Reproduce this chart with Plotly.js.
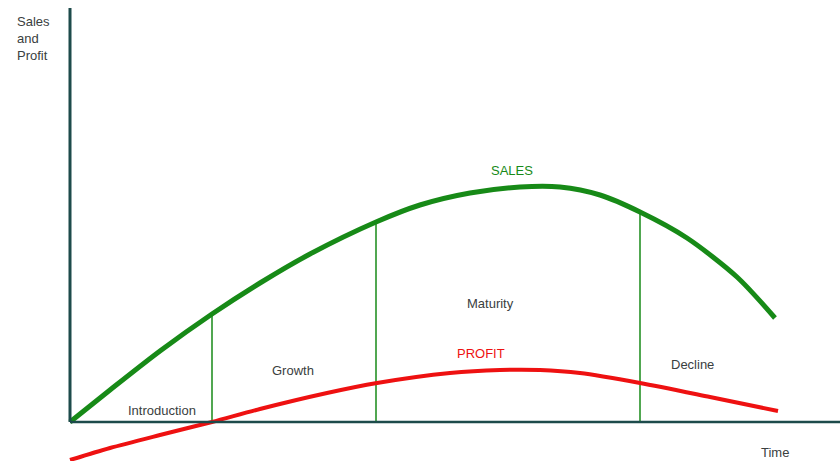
<!DOCTYPE html>
<html>
<head>
<meta charset="utf-8">
<script src="https://cdn.plot.ly/plotly-3.0.1.min.js"></script>
<style>
  html, body { margin: 0; padding: 0; background: #fff; }
  #chart { width: 840px; height: 461px; }
</style>
</head>
<body>
<div id="chart"></div>
<script>
// Product life cycle (time units, arbitrary sales units)
const salesTime = [0, 40, 90, 142, 190, 240, 306, 350, 400, 450, 490, 530, 570, 617, 667, 705];
const salesValue = [0, 32, 71, 108, 139, 168, 200, 217, 229, 235, 235, 227, 210, 184, 145, 104];

const profitTime = [0, 40, 90, 142, 190, 257, 307, 380, 430, 470, 510, 570, 640, 708];
const profitValue = [-38, -26, -13, 0, 13, 29, 39, 49, 52, 52, 49, 39, 25, 11];

// stage boundaries and the sales level where each divider stops
const stageBounds = [142, 306, 570];
const stageTops = [108, 200, 210];

const stageNames = ['Introduction', 'Growth', 'Maturity', 'Decline'];
const stageLabelX = [92, 223, 420, 622];
const stageLabelY = [12, 52, 119, 58];

const green = '#178a17';
const red = '#ee1111';
const axisColor = '#1d4b4b';
const textColor = '#3a4040';

const traces = [];

// dividers between stages
stageBounds.forEach((t, i) => {
    traces.push({
        x: [t, t], y: [0, stageTops[i]],
        mode: 'lines', line: { color: green, width: 1.5 },
        hoverinfo: 'skip', showlegend: false
    });
});

traces.push({
    x: salesTime, y: salesValue, mode: 'lines', name: 'Sales',
    line: { color: green, width: 5, shape: 'spline', smoothing: 0.8 }
});
traces.push({
    x: profitTime, y: profitValue, mode: 'lines', name: 'Profit',
    line: { color: red, width: 4, shape: 'spline', smoothing: 0.8 }
});

const font = { family: 'Liberation Sans, Arial, sans-serif', size: 13, color: textColor };

const annotations = stageNames.map((name, i) => ({
    x: stageLabelX[i], y: stageLabelY[i], text: name, showarrow: false,
    font: font, xanchor: 'center', yanchor: 'middle'
}));
annotations.push(
    { x: 442, y: 252, text: 'SALES', showarrow: false, font: { ...font, color: green } },
    { x: 411, y: 69, text: 'PROFIT', showarrow: false, font: { ...font, color: red } },
    { x: 705, y: -30, text: 'Time', showarrow: false, font: font },
    {
        x: -55, y: 410, text: 'Sales<br>and<br>Profit', showarrow: false,
        font: font, align: 'left', xanchor: 'left', yanchor: 'top'
    }
);

const layout = {
    width: 840, height: 461,
    margin: { l: 0, r: 0, t: 0, b: 0 },
    paper_bgcolor: '#fff', plot_bgcolor: '#fff',
    showlegend: false,
    xaxis: { range: [-70, 770], visible: false, fixedrange: true },
    yaxis: { range: [-39, 422], visible: false, fixedrange: true },
    shapes: [
        { type: 'line', x0: 0, x1: 0, y0: 0, y1: 414, line: { color: axisColor, width: 3 } },
        { type: 'line', x0: 0, x1: 770, y0: 0, y1: 0, line: { color: axisColor, width: 2.5 } }
    ],
    annotations: annotations
};

Plotly.newPlot('chart', traces, layout, { displayModeBar: false, staticPlot: true });
</script>
</body>
</html>
